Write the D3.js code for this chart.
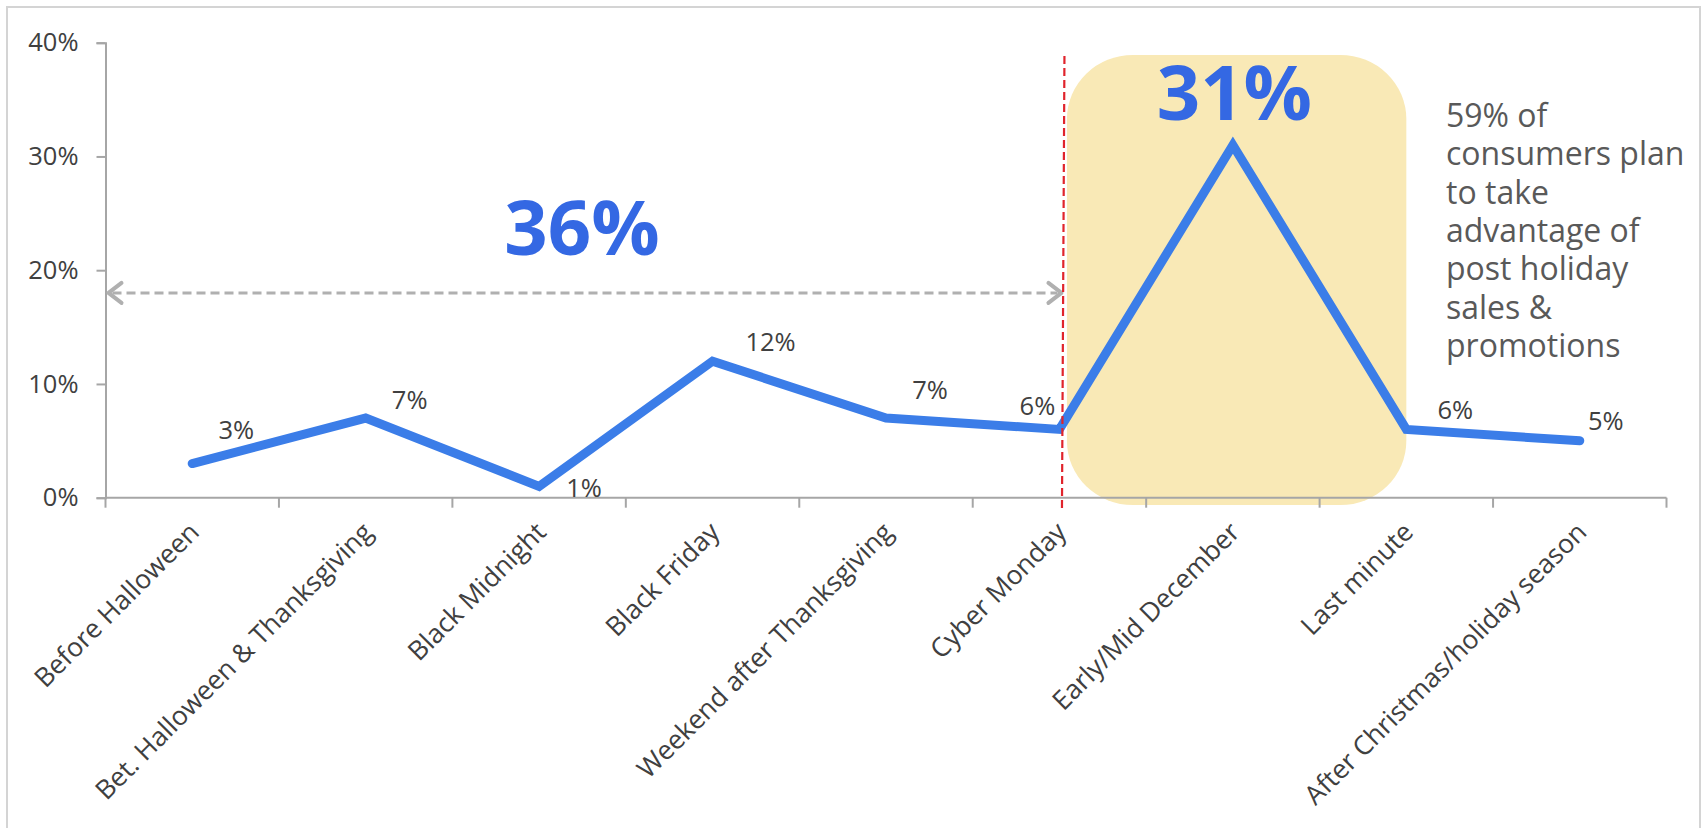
<!DOCTYPE html>
<html>
<head>
<meta charset="utf-8">
<script src="https://cdn.jsdelivr.net/npm/d3@7"></script>
<style>
  html, body { margin: 0; padding: 0; background: #fff; }
  svg { display: block; font-family: "Open Sans", "Noto Sans", sans-serif; }
</style>
</head>
<body>
<svg id="chart" width="1704" height="828"></svg>
<script>
// Holiday shopping timing: share of consumers by period
const categories = [
  "Before Halloween",
  "Bet. Halloween & Thanksgiving",
  "Black Midnight",
  "Black Friday",
  "Weekend after Thanksgiving",
  "Cyber Monday",
  "Early/Mid December",
  "Last minute",
  "After Christmas/holiday season"
];
const shares = [0.03, 0.07, 0.01, 0.12, 0.07, 0.06, 0.31, 0.06, 0.05];
const yTicks = [0, 0.10, 0.20, 0.30, 0.40];
const beforeCyberTotal = "36%";
const noteLines = [
  "59% of",
  "consumers plan",
  "to take",
  "advantage of",
  "post holiday",
  "sales &",
  "promotions"
];

// label offsets from each point (dx to label centre, dy to baseline)
const labelOffsets = [
  [44, -25], [44, -9], [45, 11], [58, -10], [44, -19],
  [-22, -14], [1.5, -25], [49, -10], [26, -11]
];
const bigLabelIndex = 6;

const svg = d3.select("#chart");
const margin = { left: 105.5, right: 1666.5, top: 42.7, bottom: 497.7 };

const x = d3.scaleBand().domain(categories).range([margin.left, margin.right]).padding(0);
const y = d3.scaleLinear().domain([0, 0.40]).range([margin.bottom, margin.top]);
const cx = c => x(c) + x.bandwidth() / 2;
const pct = d3.format(".0%");

const axisGrey = "#a6a6a6";
const textGrey = "#404040";
const lineBlue = "#3b7de8";
const bigBlue = "#3468e3";

// outer frame
svg.append("rect")
  .attr("x", 7).attr("y", 7).attr("width", 1693).attr("height", 900)
  .attr("fill", "none").attr("stroke", "#d4d4d4").attr("stroke-width", 2);

// highlight behind the December peak, spanning from the divider to "Last minute"
const divX = cx(categories[5]);
const peakCat = categories[bigLabelIndex];
const hlLeft = divX + 7.5;
const hlRight = cx(categories[7]);
svg.append("rect")
  .attr("x", hlLeft)
  .attr("y", 55)
  .attr("width", hlRight - hlLeft)
  .attr("height", 450)
  .attr("rx", 66).attr("ry", 64)
  .attr("fill", "#f9e9b6");

// y axis
const yAxis = d3.axisLeft(y).tickValues(yTicks).tickFormat(pct).tickSize(9).tickPadding(18);
const gy = svg.append("g").attr("transform", `translate(${margin.left},0)`).call(yAxis);
gy.select(".domain").attr("stroke", axisGrey).attr("stroke-width", 2);
gy.selectAll(".tick line").attr("stroke", axisGrey).attr("stroke-width", 2);
gy.selectAll(".tick text")
  .attr("fill", textGrey).attr("font-size", 25.5).attr("font-family", "Open Sans");

// x axis with ticks between categories
const gx = svg.append("g").attr("transform", `translate(0,${margin.bottom})`);
gx.append("line")
  .attr("x1", margin.left).attr("x2", margin.right)
  .attr("y1", 0).attr("y2", 0)
  .attr("stroke", axisGrey).attr("stroke-width", 2);
const boundaries = categories.map(c => x(c)).concat([margin.right]);
gx.selectAll("line.tk").data(boundaries).join("line")
  .attr("class", "tk")
  .attr("x1", d => d).attr("x2", d => d)
  .attr("y1", 0).attr("y2", 10)
  .attr("stroke", axisGrey).attr("stroke-width", 2);
gx.selectAll("text.cat").data(categories).join("text")
  .attr("class", "cat")
  .attr("transform", d => `translate(${cx(d) + 8.5},${36}) rotate(-45)`)
  .attr("text-anchor", "end")
  .attr("fill", textGrey)
  .attr("font-size", 26.5)
  .text(d => d);

// dashed span arrow over the pre-December periods
const arrowY = y(0.18);
const arrowL = margin.left + 3;
const arrowR = divX + 2;
svg.append("line")
  .attr("x1", arrowL + 4).attr("x2", arrowR - 4)
  .attr("y1", arrowY).attr("y2", arrowY)
  .attr("stroke", "#b0b0b0").attr("stroke-width", 3)
  .attr("stroke-dasharray", "9,5");
svg.append("path")
  .attr("d", `M${arrowL + 13},${arrowY - 10} L${arrowL},${arrowY} L${arrowL + 13},${arrowY + 10}`)
  .attr("fill", "none").attr("stroke", "#b0b0b0").attr("stroke-width", 4)
  .attr("stroke-linecap", "round").attr("stroke-linejoin", "round");
svg.append("path")
  .attr("d", `M${arrowR - 13},${arrowY - 10} L${arrowR},${arrowY} L${arrowR - 13},${arrowY + 10}`)
  .attr("fill", "none").attr("stroke", "#b0b0b0").attr("stroke-width", 4)
  .attr("stroke-linecap", "round").attr("stroke-linejoin", "round");

// big total above the arrow
svg.append("text")
  .attr("x", 582).attr("y", 255)
  .attr("text-anchor", "middle")
  .attr("fill", bigBlue).attr("font-size", 76).attr("font-weight", 700)
  .text(beforeCyberTotal);

// the series line
const line = d3.line()
  .x((d, i) => cx(categories[i]))
  .y(d => y(d));
svg.append("path")
  .datum(shares)
  .attr("d", line)
  .attr("fill", "none")
  .attr("stroke", lineBlue)
  .attr("stroke-width", 9)
  .attr("stroke-linecap", "round")
  .attr("stroke-linejoin", "miter");

// divider after Cyber Monday
svg.append("line")
  .attr("x1", divX + 5).attr("x2", divX + 2.5)
  .attr("y1", 56).attr("y2", 512)
  .attr("stroke", "#e0242c").attr("stroke-width", 2.2)
  .attr("stroke-dasharray", "8,4");

// value labels (the peak is shown large)
const points = shares.map((v, i) => ({ v, i, big: i === bigLabelIndex }));
svg.selectAll("text.val").data(points).join("text")
  .attr("class", "val")
  .attr("x", d => cx(categories[d.i]) + labelOffsets[d.i][0])
  .attr("y", d => y(d.v) + labelOffsets[d.i][1])
  .attr("text-anchor", "middle")
  .attr("fill", d => d.big ? bigBlue : textGrey)
  .attr("font-size", d => d.big ? 76 : 25.5)
  .attr("font-weight", d => d.big ? 700 : 400)
  .text(d => pct(d.v));

// side note
const note = svg.append("text")
  .attr("x", 1446).attr("y", 126.7)
  .attr("fill", "#595959").attr("font-size", 32);
note.selectAll("tspan").data(noteLines).join("tspan")
  .attr("x", 1446)
  .attr("dy", (d, i) => i === 0 ? 0 : 38.4)
  .text(d => d);
</script>
</body>
</html>
